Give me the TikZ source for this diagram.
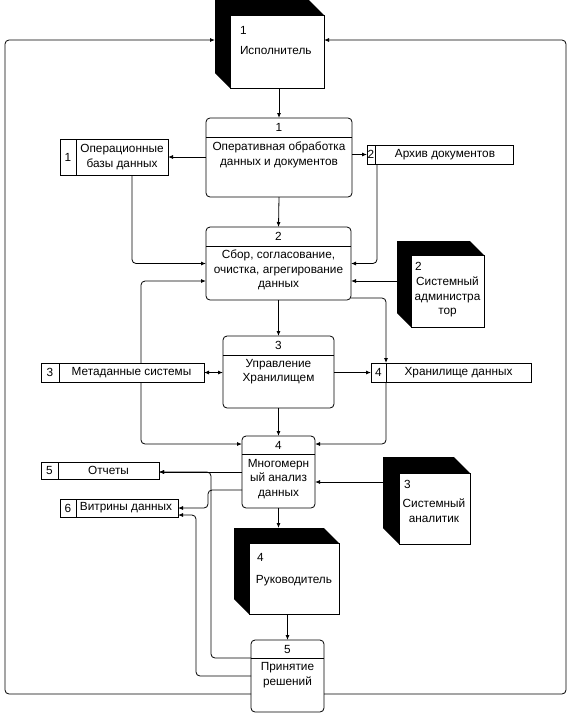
\documentclass[tikz,border=0pt]{standalone}
\usepackage{fontspec}
\setmainfont{Liberation Sans}
\usetikzlibrary{arrows.meta,calc}
\begin{document}
\begin{tikzpicture}[x=1pt,y=-1pt, line width=0.8pt,
  every node/.style={font=\fontsize{11.8}{14.5}\selectfont, inner sep=0pt, outer sep=0pt},
  proc/.style={draw, rounded corners=4pt, anchor=north west, fill=white},
  store/.style={draw, anchor=north west, fill=white},
  ent/.style={draw, anchor=north west, fill=white},
  txt/.style={align=center},
  tip/.tip={Latex[length=5pt,width=4pt]},
  arr/.style={-tip, rounded corners=4pt},
]
\useasboundingbox (0,0) rectangle (571,716);
% external entities
\node[ent, minimum width=94, minimum height=73] (ex) at (230,15) {};
\node[ent, minimum width=73, minimum height=72] (sa) at (411,255) {};
\node[ent, minimum width=71, minimum height=71] (an) at (399,473) {};
\node[ent, minimum width=90, minimum height=71] (ru) at (249,543) {};
\foreach \n/\d in {ex/15,sa/14,an/16,ru/15}{
  \fill (\n.north west) -- (\n.north east) -- ([shift={(-\d,-\d)}]\n.north east)
    -- ([shift={(-\d,-\d)}]\n.north west) -- ([shift={(-\d,-\d)}]\n.south west)
    -- (\n.south west) -- cycle;
}
\coordinate (exbw) at ([shift={(-15,0)}]ex.west);
\coordinate (sabw) at ([shift={(-14,0)}]sa.west);
\coordinate (anbw) at ([shift={(-16,0)}]an.west);
\coordinate (rubt) at ([shift={(0,-15)}]ru.north);
\node[anchor=west] (ex1) at (240,30) {1};
\node[anchor=west] (ex2) at (240,50) {Исполнитель};
\node[anchor=west] (sa1) at (415,266) {2};
\node[txt] (sa2) at (447.5,297) {Системный\\администра\\тор};
\node[anchor=west] (an1) at (404,484) {3};
\node[txt] (an2) at (434,510.5) {Системный\\аналитик};
\node[anchor=west] (ru1) at (257,557) {4};
\node[txt] (ru2) at (294,581) {Руководитель};
% processes
\node[proc, minimum width=146, minimum height=79] (p1) at (206,118) {};
\node[proc, minimum width=145, minimum height=73] (p2) at (206,227) {};
\node[proc, minimum width=111, minimum height=72] (p3) at (223,336) {};
\node[proc, minimum width=73, minimum height=72] (p4) at (242,436) {};
\node[proc, minimum width=73, minimum height=72] (p5) at (251,640) {};
\foreach \n/\h in {p1/19,p2/19,p3/19,p4/18,p5/18}{
  \draw ([shift={(0,\h)}]\n.north west) -- ([shift={(0,\h)}]\n.north east);
}
\node (p1h) at ([shift={(0,9.5)}]p1.north) {1};
\node[txt] (p1t) at ([shift={(0,37)}]p1.north) {Оперативная обработка\\данных и документов};
\node (p2h) at ([shift={(0,9.5)}]p2.north) {2};
\node[txt] (p2t) at ([shift={(0,43)}]p2.north) {Сбор, согласование,\\очистка, агрегирование\\данных};
\node (p3h) at ([shift={(0,9.5)}]p3.north) {3};
\node[txt] (p3t) at ([shift={(0,35.5)}]p3.north) {Управление\\Хранилищем};
\node (p4h) at ([shift={(0,9)}]p4.north) {4};
\node[txt] (p4t) at ([shift={(0,43)}]p4.north) {Многомерн\\ый анализ\\данных};
\node (p5h) at ([shift={(0,9)}]p5.north) {5};
\node[txt] (p5t) at ([shift={(0,35)}]p5.north) {Принятие\\решений};
% stores
\node[store, minimum width=108, minimum height=36] (s1) at (60,139) {};
\node[store, minimum width=146, minimum height=19] (s2) at (367,145) {};
\node[store, minimum width=163, minimum height=19] (s3) at (41,363) {};
\node[store, minimum width=160, minimum height=19] (s4) at (371,363) {};
\node[store, minimum width=118, minimum height=17] (s5) at (41,462) {};
\node[store, minimum width=118, minimum height=18] (s6) at (60,499) {};
\foreach \n/\w in {s1/16,s2/8,s3/18,s4/15,s5/17,s6/16}{
  \draw ([shift={(\w,0)}]\n.north west) -- ([shift={(\w,0)}]\n.south west);
}
\node (s1n) at ([shift={(8,0)}]s1.west) {1};
\node[txt] (s1t) at ([shift={(8,0)}]s1.center) {Операционные\\базы данных};
\node (s2n) at ([shift={(4,0)}]s2.west) {2};
\node (s2t) at ([shift={(5,0)}]s2.center) {Архив документов};
\node (s3n) at ([shift={(9,0)}]s3.west) {3};
\node (s3t) at ([shift={(9,0)}]s3.center) {Метаданные системы};
\node (s4n) at ([shift={(7.5,0)}]s4.west) {4};
\node (s4t) at ([shift={(7.5,0)}]s4.center) {Хранилище данных};
\node (s5n) at ([shift={(8.5,0)}]s5.west) {5};
\node (s5t) at ([shift={(8.5,0)}]s5.center) {Отчеты};
\node (s6n) at ([shift={(8,0)}]s6.west) {6};
\node (s6t) at ([shift={(7,0)}]s6.center) {Витрины данных};
% helper coordinates
\coordinate (loopt) at (0,40);
\coordinate (loopb) at (0,694);
\coordinate (loopl) at (5,0);
\coordinate (loopr) at (566,0);
\coordinate (jx1) at (208,0);
\coordinate (jx2) at (211,0);
\coordinate (jx3) at (196,0);
\coordinate (p2ea) at ([shift={(0,17.5)}]p2.east);
\coordinate (p2wa) at ([shift={(0,17.5)}]p2.west);
\coordinate (p2eb) at ([shift={(0,34.5)}]p2.east);
\coordinate (p4nw) at ([shift={(0,8)}]p4.north west);
\coordinate (p4ne) at ([shift={(0,8)}]p4.north east);
\coordinate (anl) at ([shift={(0,9)}]an.north);
\coordinate (p4wb) at ([shift={(0,18)}]p4.west);
\coordinate (p5h) at ([shift={(0,18)}]p5.north west);
\coordinate (s6b) at ([shift={(0,7)}]s6.east);
% connectors
\draw[arr] (p5.west |- loopb) -| (loopl |- loopt) -- (exbw |- loopt);
\draw[arr] (p5.east |- loopb) -| (loopr |- loopt) -- (ex.east |- loopt);
\draw[arr] (p1.north |- ex.south) -- (p1.north);
\draw[arr] (p1.west |- s1.east) -- (s1.east);
\draw[arr] (p1.east |- s2.west) -- (s2.west);
\draw[arr] (p1.south) -- (p2.north);
\draw[arr] ([shift={(18,0)}]s1.south) |- (p2.west);
\draw[arr] ([shift={(10,0)}]s2.south west) |- (p2.east);
\draw[arr] (sabw |- p2ea) -- (p2ea);
\draw[arr] ([shift={(100,0)}]s3.north west) |- (p2wa);
\draw[arr] (p2eb) -| ([shift={(15,0)}]s4.north west);
\draw[arr] (p3.north |- p2.south) -- (p3.north);
\draw[tip-tip] (s3.east) -- (p3.west |- s3.east);
\draw[arr] (p3.east |- s4.west) -- (s4.west);
\draw[arr] (p4.north |- p3.south) -- (p4.north);
\draw[arr] ([shift={(100,0)}]s3.south west) |- (p4nw);
\draw[arr] ([shift={(15,0)}]s4.south west) |- (p4ne);
\draw[arr] (anbw |- anl) -- (p4.east |- anl);
\draw[arr] (p4.west) -- (s5.east |- p4.west);
\draw[arr] (p4wb) -- (jx1 |- p4wb) |- (s6.east);
\draw[arr] (p5h) -- (jx2 |- p5h) -- (jx2 |- p4.west) -- (s5.east |- p4.west);
\draw[arr] (p5.west) -- (jx3 |- p5.west) -- (jx3 |- s6b) -- (s6b);
\draw[arr] (p4.south) -- (p4.south |- rubt);
\draw[arr] (p5.north |- ru.south) -- (p5.north);
\end{tikzpicture}
\end{document}
